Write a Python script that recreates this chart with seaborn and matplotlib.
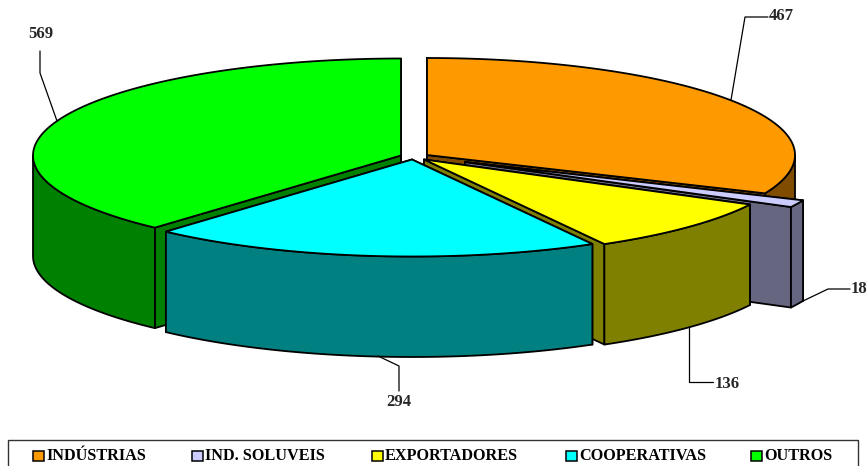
import numpy as np
import matplotlib
matplotlib.use('Agg')
import matplotlib.pyplot as plt
from matplotlib.patches import Rectangle
import seaborn as sns

# data
categories = ['INDÚSTRIAS', 'IND. SOLUVEIS', 'EXPORTADORES', 'COOPERATIVAS', 'OUTROS']
values = [467, 18, 136, 294, 569]

# look
tops = ['#FF9900', '#CCCCFF', '#FFFF00', '#00FFFF', '#00FF00']
walls = ['#804D00', '#666680', '#808000', '#008080', '#008000']
centres = [(427, 155), (465, 162), (424, 159.5), (412, 159.5), (401, 155.5)]
RX, RY, DEPTH = 368, 97, 100.5
LW = 1.3
FONT = 'Liberation Serif'

sns.set_style('white')
fig = plt.figure(figsize=(8.67, 4.66), dpi=100)
ax = fig.add_axes([0, 0, 1, 1])
ax.set_xlim(0, 867)
ax.set_ylim(466, 0)
ax.axis('off')

fracs = np.array(values) / sum(values)
starts = 90 - 360 * np.concatenate([[0], np.cumsum(fracs)[:-1]])
ends = starts - 360 * fracs


def arc(c, a0, a1, dy=0):
    t = np.radians(np.linspace(a0, a1, 200))
    return c[0] + RX * np.cos(t), c[1] - RY * np.sin(t) + dy


def face(xs, ys, color, z):
    ax.fill(xs, ys, facecolor=color, edgecolor='black', linewidth=LW,
            joinstyle='round', zorder=z)


def cut_face(c, a, color, z):
    x, y = arc(c, a, a)
    face([c[0], x[0], x[0], c[0]],
         [c[1], y[0], y[0] + DEPTH, c[1] + DEPTH], color, z)


# painter order, back to front
for z, i in enumerate([0, 1, 2, 4, 3]):
    c = centres[i]
    base = z * 10
    cut_face(c, starts[i], walls[i], base + 1)
    cut_face(c, ends[i], walls[i], base + 2)
    # only the front half of the rim shows
    lo = max(ends[i], -180)
    hi = min(starts[i], 0)
    if hi > lo:
        x1, y1 = arc(c, hi, lo)
        x2, y2 = arc(c, lo, hi, DEPTH)
        face(np.r_[x1, x2], np.r_[y1, y2], walls[i], base + 3)
    x, y = arc(c, starts[i], ends[i])
    face(np.r_[c[0], x], np.r_[c[1], y], tops[i], base + 4)

# value labels with leader lines
leaders = [
    ([731, 745, 768], [100, 17, 17], (769, 16, 'left')),
    ([803, 828, 850], [301, 289, 289], (851, 289, 'left')),
    ([689, 689, 713], [327, 382, 382], (715, 384, 'left')),
    ([378, 399, 399], [356, 366, 391], (399, 402, 'center')),
    ([57, 40, 40], [121, 73, 51], (41, 34, 'center')),
]
for val, (lx, ly, (tx, ty, ha)) in zip(values, leaders):
    ax.plot(lx, ly, color='black', lw=0.9, zorder=100)
    ax.text(tx, ty, str(val), ha=ha, va='center', fontsize=12,
            fontweight='bold', family=FONT, zorder=100)

# legend
ax.add_patch(Rectangle((8, 439.5), 850, 40, facecolor='white', edgecolor='#333333',
                       linewidth=1.0, zorder=90))
swatch_x = [33, 192, 372, 566, 751]
for sx, name, col in zip(swatch_x, categories, tops):
    ax.add_patch(Rectangle((sx, 450.5), 10.5, 10.5, facecolor=col, edgecolor='black',
                           linewidth=1.1, zorder=95))
    ax.text(sx + 13, 456, name, ha='left', va='center', fontsize=11.7,
            fontweight='bold', family=FONT, color='black', zorder=95)

fig.savefig('out.png', dpi=100)
